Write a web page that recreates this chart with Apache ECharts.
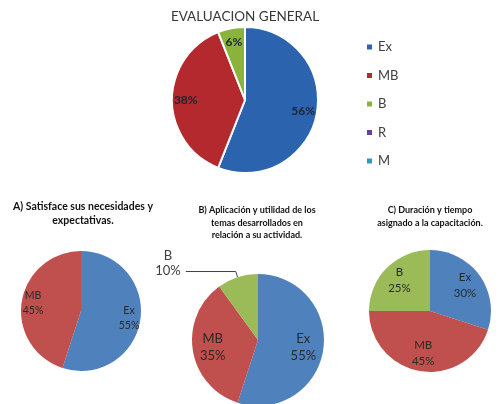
<!DOCTYPE html>
<html>
<head>
<meta charset="utf-8">
<script src="https://cdn.jsdelivr.net/npm/echarts@6/dist/echarts.min.js"></script>
<style>html,body{margin:0;padding:0;background:#fff;}#c{width:502px;height:404px;}</style>
</head>
<body>
<div id="c"></div>
<script>
// ---- data ----
const mainTitle = 'EVALUACION GENERAL';
const mainCategories = ['Ex', 'MB', 'B', 'R', 'M'];
const mainValues = [56, 38, 6, 0, 0];

const aTitle = 'A) Satisface sus necesidades y\nexpectativas.';
const aCategories = ['Ex', 'MB'];
const aValues = [55, 45];

const bTitle = 'B) Aplicación y utilidad de los\ntemas desarrollados en\nrelación a su actividad.';
const bCategories = ['Ex', 'MB', 'B'];
const bValues = [55, 35, 10];
const bOutsideLabels = ['B'];

const cTitle = 'C) Duración y tiempo\nasignado a la capacitación.';
const cCategories = ['Ex', 'MB', 'B'];
const cValues = [30, 45, 25];

// ---- styles ----
const FONT = 'Lato';
const mainColors = ['#2C63AE', '#B3292D', '#8AB33B', '#6A3F9E', '#1CA3B9'];
const smallColors = ['#4F81BD', '#C0504D', '#9BBB59'];

function makePie(cats, vals, colors, center, r, labelFrac, labelOpts) {
  const outside = labelOpts.outside || [];
  const visible = {
    type: 'pie', center: center, radius: r, startAngle: 90, clockwise: true,
    avoidLabelOverlap: false, animation: false,
    itemStyle: labelOpts.border ? { borderColor: '#fff', borderWidth: 2 } : { borderWidth: 0 },
    label: { show: false }, labelLine: { show: false },
    emphasis: { disabled: true },
    data: cats.map((n, i) => {
      const d = { name: n, value: vals[i], itemStyle: { color: colors[i] } };
      if (outside.indexOf(n) >= 0) {
        d.label = {
          show: true, position: 'outside',
          formatter: '{n|' + n + '}\n{v|' + vals[i] + '%}',
          padding: [0, 0, 16, 0],
          rich: {
            n: { fontFamily: FONT, fontSize: labelOpts.fontSize, color: '#404040', align: 'center', lineHeight: 15 },
            v: { fontFamily: FONT, fontSize: labelOpts.fontSize, color: '#404040', align: 'center', lineHeight: 15 }
          }
        };
        d.labelLine = { show: true, length: 6, length2: 50, smooth: false, lineStyle: { color: '#404040', width: 1 } };
      }
      return d;
    })
  };
  // transparent twin ring: its "inside" labels sit at labelFrac of the radius
  const r0 = Math.max(0, 2 * labelFrac - 1) * r;
  const overlay = {
    type: 'pie', center: center, radius: [r0, r], startAngle: 90, clockwise: true,
    avoidLabelOverlap: false, animation: false, silent: true,
    itemStyle: { color: 'transparent', borderWidth: 0 },
    emphasis: { disabled: true },
    label: {
      show: true, position: 'inside', fontFamily: FONT,
      fontSize: labelOpts.fontSize, fontWeight: labelOpts.bold ? 'bold' : 'normal',
      color: labelOpts.color, lineHeight: labelOpts.lineHeight,
      formatter: p => {
        if (!p.value || outside.indexOf(p.name) >= 0) return '';
        return labelOpts.showName ? p.name + '\n' + p.value + '%' : p.value + '%';
      }
    },
    labelLine: { show: false },
    data: cats.map((n, i) => ({ name: n, value: vals[i] }))
  };
  return [visible, overlay];
}

const series = [].concat(
  makePie(mainCategories, mainValues, mainColors, [245, 100], 73, 0.77,
    { fontSize: 12, bold: true, color: '#1e2433', border: true, showName: false }),
  makePie(aCategories, aValues, smallColors, [81, 311], 60, 0.76,
    { fontSize: 10.5, color: '#2a2a2a', showName: true, lineHeight: 15 }),
  makePie(bCategories, bValues, smallColors, [258, 340], 66, 0.65,
    { fontSize: 13, color: '#2a2a2a', showName: true, lineHeight: 17, outside: bOutsideLabels }),
  makePie(cCategories, cValues, smallColors, [430, 311], 61, 0.66,
    { fontSize: 11.5, color: '#2a2a2a', showName: true, lineHeight: 16 })
);

const subStyle = (size, lh) => ({ fontFamily: FONT, fontWeight: 'bold', fontSize: size, color: '#111', lineHeight: lh, align: 'center' });

const option = {
  backgroundColor: '#fff',
  animation: false,
  title: [
    { text: mainTitle, left: 245, top: 10, padding: 0, textAlign: 'center',
      textStyle: { fontFamily: FONT, fontWeight: 'normal', fontSize: 13.5, color: '#383838' } },
    { text: aTitle, left: 83, top: 200, padding: 0, textAlign: 'center', textStyle: subStyle(10.5, 14) },
    { text: bTitle, left: 257, top: 204, padding: 0, textAlign: 'center', textStyle: subStyle(9, 12.5) },
    { text: cTitle, left: 430, top: 204, padding: 0, textAlign: 'center', textStyle: subStyle(9, 12.6) }
  ],
  legend: {
    orient: 'vertical', left: 365, top: 40, padding: 0,
    icon: 'rect', itemWidth: 7, itemHeight: 7, itemGap: 14.5,
    selectedMode: false,
    textStyle: { fontFamily: FONT, fontSize: 13, color: '#404040', lineHeight: 14 },
    data: mainCategories.map((n, i) => ({ name: n, itemStyle: { color: mainColors[i] } }))
  },
  series: series
};

const chart = echarts.init(document.getElementById('c'), null, { renderer: 'canvas' });
chart.setOption(option);
</script>
</body>
</html>
